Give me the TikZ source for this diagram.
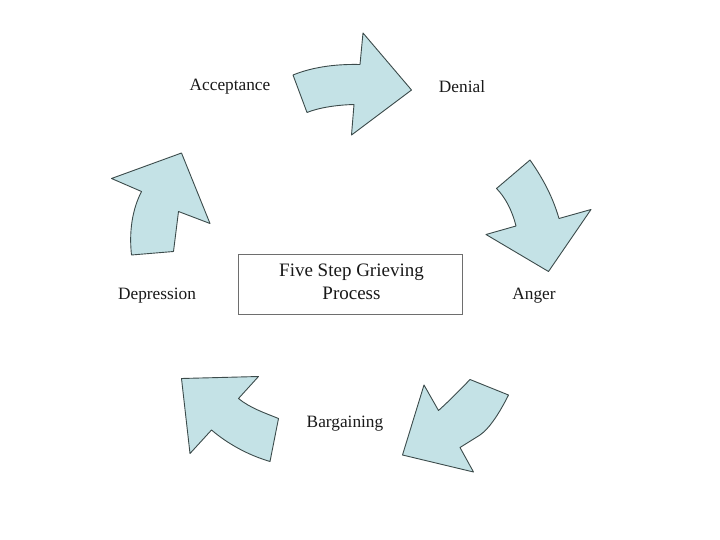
\documentclass[tikz,border=0pt]{standalone}
\usepackage{fontspec}
\setmainfont{Liberation Serif}
\definecolor{arrowfill}{RGB}{196,226,230}
\definecolor{arrowline}{RGB}{60,75,75}
\definecolor{boxline}{RGB}{110,110,110}
\tikzset{
  bigarrow/.style={fill=arrowfill, draw=arrowline, line width=0.9pt, line join=round},
  lbl/.style={font=\fontsize{17.3}{20}\selectfont, text=black!90, inner sep=0pt},
  centerbox/.style={draw=boxline, line width=1pt, minimum width=224pt, minimum height=60pt, align=center, inner sep=0pt, font=\fontsize{19}{23}\selectfont, text=black!90}
}
\begin{document}
\begin{tikzpicture}[x=1pt,y=-1pt]
\useasboundingbox (0,0) rectangle (720,540);
\fill[white] (0,0) rectangle (720,540);
% Arrow toward Denial
\draw[bigarrow] (293,75) .. controls (315,66) and (340,64) .. (360,64.5)
  -- (363,33) -- (411.5,90) -- (351.5,135) -- (354,104.5)
  .. controls (335,105) and (318,108) .. (307,112.5) -- cycle;
% Arrow toward Anger
\draw[bigarrow] (530,160) .. controls (544,180) and (553,198) .. (559,218.5)
  -- (591,209.5) -- (548.5,271.5) -- (486,234.5) -- (516,226)
  .. controls (512,210) and (505,197) .. (496.5,188.5) -- cycle;
% Arrow toward Bargaining (pointing down-left)
\draw[bigarrow] (508.5,395) .. controls (500,412) and (490,428) .. (480,435)
  -- (460,447.5) -- (473.5,472) -- (402.5,455) -- (424,385) -- (438.5,410.5)
  .. controls (448,402) and (458,392) .. (470,379.5) -- cycle;
% Arrow toward Depression (pointing up-left)
\draw[bigarrow] (181.5,378.5) -- (258.5,376.5) -- (238.5,398.5)
  .. controls (250,408) and (265,413) .. (278.5,418.5)
  -- (270,461.5)
  .. controls (248,455) and (228,444) .. (211.5,430)
  -- (190,453.5) -- cycle;
% Arrow toward Acceptance (pointing up-right)
\draw[bigarrow] (181.5,153) -- (210,223.5) -- (178.5,211.5) -- (173.5,251.5)
  -- (131.5,255) .. controls (129,232) and (132,210) .. (141.5,191.5)
  -- (111.5,178.5) -- cycle;
% Labels
\node[lbl] (acc) at (230,86.5) {Acceptance};
\node[lbl] (den) at (462,86.5) {Denial};
\node[lbl] (ang) at (534,295.5) {Anger};
\node[lbl] (dep) at (157,295.5) {Depression};
\node[lbl] (bar) at (345,423.5) {Bargaining};
\node[centerbox] (box) at (350.5,284.5) {};
\node[align=center, inner sep=0pt, font=\fontsize{19}{23}\selectfont, text=black!90] (boxtext) at (351.5,281.5) {Five Step Grieving\\Process};
\end{tikzpicture}
\end{document}
